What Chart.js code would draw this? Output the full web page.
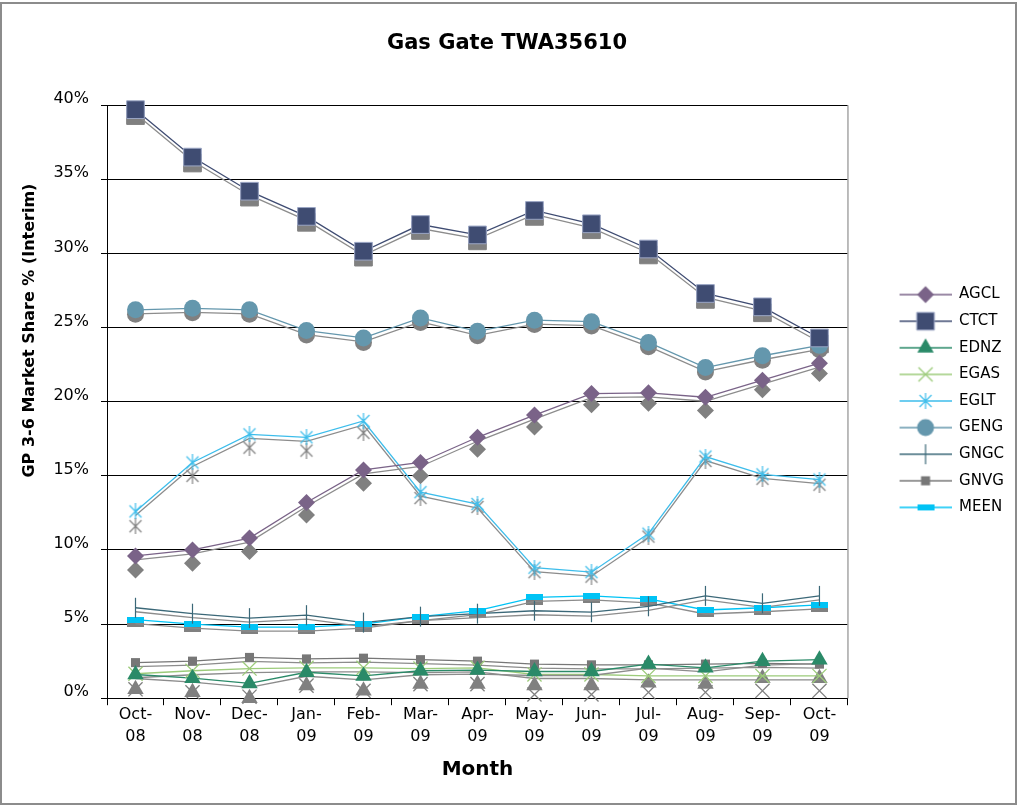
<!DOCTYPE html>
<html>
<head>
<meta charset="utf-8">
<title>Gas Gate TWA35610</title>
<script src="https://cdn.jsdelivr.net/npm/chart.js@4.4.1/dist/chart.umd.min.js"></script>
<style>
  body { margin: 0; background: #fff; }
  #wrap { position: relative; width: 1017px; height: 805px; }
</style>
</head>
<body>
<div id="wrap"><canvas id="canvas"></canvas></div>
<script>
// month axis, two-line tick labels
var MONTHS = [['Oct-', '08'], ['Nov-', '08'], ['Dec-', '08'], ['Jan-', '09'], ['Feb-', '09'], ['Mar-', '09'],
              ['Apr-', '09'], ['May-', '09'], ['Jun-', '09'], ['Jul-', '09'], ['Aug-', '09'], ['Sep-', '09'], ['Oct-', '09']];

// market share % (interim) per retailer
var AGCL = [9.6, 10.0, 10.8, 13.2, 15.4, 15.9, 17.6, 19.1, 20.55, 20.6, 20.3, 21.45, 22.6];
var CTCT = [39.7, 36.5, 34.2, 32.5, 30.15, 31.95, 31.25, 32.9, 32.0, 30.3, 27.3, 26.4, 24.3];
var EDNZ = [1.6, 1.35, 1.0, 1.75, 1.5, 1.85, 1.9, 1.8, 1.8, 2.3, 2.05, 2.5, 2.6];
var EGAS = [1.65, 1.85, 2.0, 2.05, 2.05, 2.0, 2.05, 1.6, 1.6, 1.5, 1.5, 1.5, 1.5];
var EGLT = [12.6, 15.9, 17.8, 17.6, 18.7, 13.9, 13.1, 8.8, 8.5, 11.1, 16.3, 15.1, 14.75];
var GENG = [26.2, 26.3, 26.2, 24.8, 24.3, 25.65, 24.75, 25.5, 25.4, 24.0, 22.3, 23.1, 23.8];
var GNGC = [6.1, 5.7, 5.4, 5.6, 5.1, 5.5, 5.7, 5.9, 5.8, 6.2, 6.9, 6.4, 6.9];
var GNVG = [2.4, 2.5, 2.75, 2.65, 2.7, 2.6, 2.5, 2.3, 2.25, 2.25, 2.3, 2.35, 2.3];
var MEEN = [5.3, 5.0, 4.8, 4.8, 5.0, 5.5, 5.9, 6.8, 6.9, 6.7, 5.95, 6.1, 6.3];

// grey markers sitting under the coloured ones
var AGCL_GREY = [8.65, 9.1, 9.9, 12.35, 14.5, 15.0, 16.8, 18.3, 19.8, 19.9, 19.4, 20.8, 21.9];
var CTCT_GREY = [39.3, 36.1, 33.8, 32.1, 29.75, 31.55, 30.85, 32.5, 31.6, 29.9, 26.9, 26.0, 23.9];
var EDNZ_GREY = [0.6, 0.4, 0.0, 0.85, 0.5, 0.95, 0.95, 0.85, 0.85, 1.05, 0.95, 1.35, 1.35];
var EGAS_GREY = [0.6, 0.4, 0.1, 0.85, 0.5, 0.95, 0.95, 0.25, 0.25, 0.4, 0.4, 0.5, 0.5];
var EGLT_GREY = [11.6, 15.0, 16.9, 16.7, 17.9, 13.5, 12.9, 8.5, 8.2, 10.9, 16.0, 14.8, 14.4];
var GENG_GREY = [25.9, 26.0, 25.9, 24.5, 24.0, 25.35, 24.45, 25.2, 25.1, 23.7, 22.0, 22.8, 23.5];
var MEEN_GREY = [5.0, 4.7, 4.5, 4.5, 4.7, 5.2, 5.6, 6.5, 6.6, 6.4, 5.65, 5.8, 6.0];

var Y_TITLE = 'GP 3-6 Market Share % (Interim)';
var GREY = '#808080';
var FONT = 'DejaVu Sans, Verdana, sans-serif';

function makeCanvas(w, h, draw) {
    var c = document.createElement('canvas');
    c.width = w;
    c.height = h;
    draw(c.getContext('2d'));
    return c;
}

function bar(color) {
    return makeCanvas(17, 6, function(ctx) {
        ctx.fillStyle = color;
        ctx.fillRect(0, 0, 17, 6);
    });
}

function asterisk(color) {
    return makeCanvas(16, 16, function(ctx) {
        ctx.strokeStyle = color;
        ctx.lineWidth = 1.2;
        ctx.beginPath();
        ctx.moveTo(8, 0); ctx.lineTo(8, 16);
        ctx.moveTo(2, 2); ctx.lineTo(14, 14);
        ctx.moveTo(14, 2); ctx.lineTo(2, 14);
        ctx.stroke();
    });
}

var SERIES = [
    {name: 'AGCL', data: AGCL, grey: AGCL_GREY, color: '#7A6388', style: 'rectRot', r: 8.5},
    {name: 'CTCT', data: CTCT, grey: CTCT_GREY, color: '#3F4C72', border: '#9AA5C4', bw: 1, style: 'rect', r: 12.5},
    {name: 'EDNZ', data: EDNZ, grey: EDNZ_GREY, color: '#2A8A68', style: 'triangle', r: 9.5},
    {name: 'EGAS', data: EGAS, grey: EGAS_GREY, color: '#9CCB7A', bw: 1.3, style: 'crossRot', r: 10},
    {name: 'EGLT', data: EGLT, grey: EGLT_GREY, color: '#3DBDEB', style: asterisk('#3DBDEB'), greyStyle: asterisk(GREY), r: 8},
    {name: 'GENG', data: GENG, grey: GENG_GREY, color: '#6497AD', style: 'circle', r: 8.5},
    {name: 'GNGC', data: GNGC, color: '#3B6878', bw: 1.2, style: 'line', rot: 90, r: 10},
    {name: 'GNVG', data: GNVG, color: '#777777', style: 'rect', r: 6.4},
    {name: 'MEEN', data: MEEN, grey: MEEN_GREY, color: '#00C3F5', style: bar('#00C3F5'), greyStyle: bar(GREY), r: 8}
];

// legend sample: short line with the marker in the middle
function legendIcon(s) {
    return makeCanvas(92, 22, function(ctx) {
        ctx.strokeStyle = s.color;
        ctx.lineWidth = 1.3;
        ctx.beginPath();
        ctx.moveTo(40, 11);
        ctx.lineTo(92, 11);
        ctx.stroke();
        ctx.fillStyle = s.color;
        ctx.strokeStyle = s.border || s.color;
        ctx.lineWidth = s.bw || 0;
        Chart.helpers.drawPoint(ctx, {
            pointStyle: s.style, radius: s.r, rotation: s.rot || 0, borderWidth: s.bw || 0
        }, 66, 11);
    });
}

var datasets = [];
SERIES.forEach(function(s) {
    datasets.push({
        label: s.name, data: s.data, shadow: true, order: 2, clip: false,
        borderColor: s.color, borderWidth: 1.3, fill: false, tension: 0,
        pointRadius: 0, pointStyle: legendIcon(s)
    });
    datasets.push({
        label: s.name + ' marker', data: s.data, showLine: false, order: 1, clip: false,
        pointStyle: s.style, pointRadius: s.r, pointRotation: s.rot || 0,
        pointBackgroundColor: s.color, pointBorderColor: s.border || s.color, pointBorderWidth: s.bw || 0
    });
    if (s.grey) {
        datasets.push({
            label: s.name + ' grey', data: s.grey, showLine: false, order: 3, clip: false,
            pointStyle: s.greyStyle || s.style, pointRadius: s.r, pointRotation: s.rot || 0,
            pointBackgroundColor: GREY, pointBorderColor: GREY, pointBorderWidth: s.bw || 0
        });
    }
});

// grey drop shadow under the series lines
var lineShadow = {
    id: 'lineShadow',
    beforeDatasetDraw: function(chart, args) {
        if (!chart.data.datasets[args.index].shadow) return;
        var ctx = chart.ctx;
        ctx.save();
        ctx.shadowColor = '#8c8c8c';
        ctx.shadowOffsetX = 0;
        ctx.shadowOffsetY = 4;
        ctx.shadowBlur = 0;
    },
    afterDatasetDraw: function(chart, args) {
        if (chart.data.datasets[args.index].shadow) chart.ctx.restore();
    }
};

// white background, right plot border, outer frame and the y axis title
// (the title sits above the middle of the axis, as in the original)
var frame = {
    id: 'frame',
    beforeDraw: function(chart) {
        var ctx = chart.ctx;
        ctx.save();
        ctx.fillStyle = '#fff';
        ctx.fillRect(0, 0, chart.width, chart.height);
        ctx.restore();
    },
    afterDraw: function(chart) {
        var ctx = chart.ctx, a = chart.chartArea, y = chart.scales.y;
        ctx.save();
        ctx.strokeStyle = '#a6a6a6';
        ctx.lineWidth = 1.5;
        ctx.beginPath();
        ctx.moveTo(a.right, a.top);
        ctx.lineTo(a.right, a.bottom);
        ctx.stroke();
        ctx.strokeStyle = '#8c8c8c';
        ctx.lineWidth = 2;
        ctx.strokeRect(1, 3, chart.width - 2, chart.height - 4);

        ctx.translate(y.left + 30, a.top + (a.bottom - a.top) * 0.38);
        ctx.rotate(-Math.PI / 2);
        ctx.fillStyle = '#000';
        ctx.font = 'bold 16px ' + FONT;
        ctx.textAlign = 'center';
        ctx.textBaseline = 'middle';
        ctx.fillText(Y_TITLE, 0, 0);
        ctx.restore();
    }
};

var config = {
    type: 'line',
    data: { labels: MONTHS, datasets: datasets },
    options: {
        responsive: true,
        maintainAspectRatio: false,
        animation: false,
        events: [],
        layout: { padding: { left: 0, right: 3, top: 20, bottom: 23 } },
        plugins: {
            title: {
                display: true,
                text: 'Gas Gate TWA35610',
                color: '#000',
                font: { family: FONT, size: 21, weight: 'bold' },
                padding: { top: 11, bottom: 49 }
            },
            legend: {
                position: 'right',
                labels: {
                    usePointStyle: true,
                    pointStyleWidth: 92,
                    padding: 11.6,
                    color: '#000',
                    font: { family: FONT, size: 15 },
                    filter: function(item, data) {
                        return !!data.datasets[item.datasetIndex].shadow;
                    }
                }
            },
            tooltip: { enabled: false }
        },
        scales: {
            x: {
                offset: true,
                grid: { offset: true, drawOnChartArea: false, color: '#000', tickLength: 7 },
                border: { color: '#000', width: 1 },
                ticks: { color: '#000', padding: -2, maxRotation: 0, autoSkip: false,
                         font: { family: FONT, size: 16, lineHeight: 1.4 } },
                title: { display: true, text: 'Month', color: '#000',
                         font: { family: FONT, size: 20, weight: 'bold' }, padding: { top: 12, bottom: 0 } }
            },
            y: {
                min: 0,
                max: 40,
                afterFit: function(scale) { scale.width = 107; },
                grid: { color: '#000', tickLength: 6 },
                border: { color: '#000', width: 1 },
                ticks: { stepSize: 5, color: '#000', padding: 12, labelOffset: -6,
                         font: { family: FONT, size: 16 },
                         callback: function(v) { return v + '%'; } },
                title: { display: false }
            }
        }
    },
    plugins: [lineShadow, frame]
};

window.addEventListener('load', function() {
    var ctx = document.getElementById('canvas').getContext('2d');
    window.LineChart = new Chart(ctx, config);
});
</script>
</body>
</html>
